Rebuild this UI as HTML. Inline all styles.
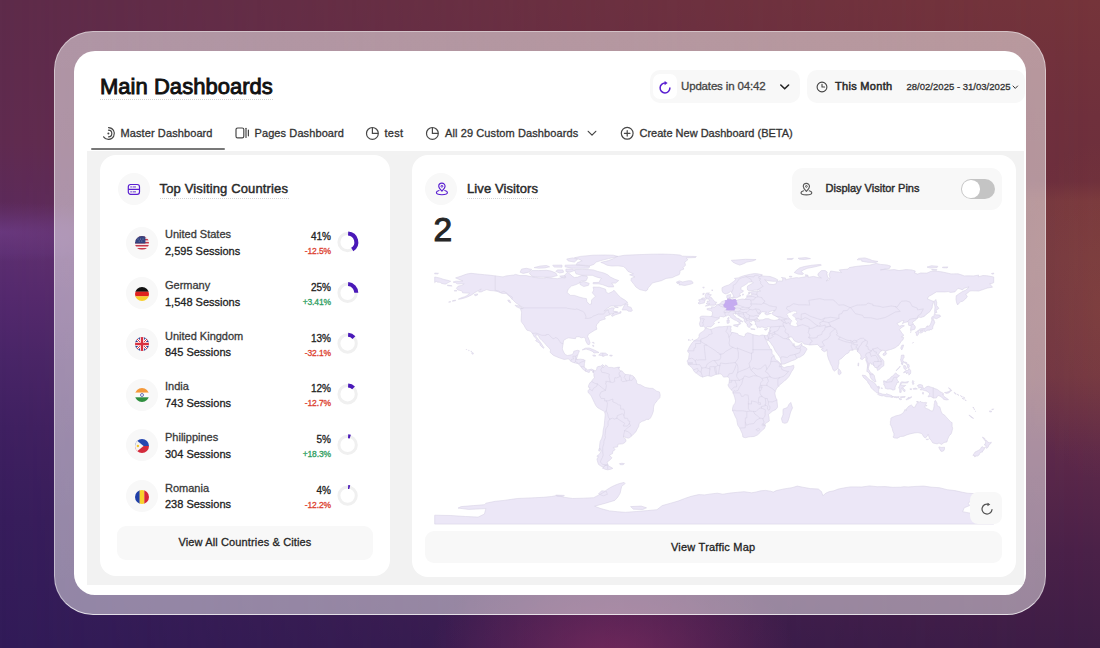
<!DOCTYPE html>
<html lang="en">
<head>
<meta charset="utf-8">
<title>Main Dashboards</title>
<style>
*{box-sizing:border-box;margin:0;padding:0}
html,body{width:1100px;height:648px;overflow:hidden}
body{font-family:"Liberation Sans",sans-serif;color:#222;position:relative;background:#4a2158;-webkit-font-smoothing:antialiased}
.bg{position:absolute;left:0;top:0;width:1100px;height:648px;
 background:linear-gradient(180deg,#5e2b4a 0%,#602b50 22%,#5c2a5c 33%,#5c2e70 39%,#54296e 46%,#492568 55%,#3f2061 66%,#371d5c 80%,#311b58 100%)}
.bg2{position:absolute;left:0;top:0;width:1100px;height:648px;
 background:linear-gradient(180deg,#75343a 0%,#6f303c 18%,#6d2f3c 28%,#78393e 31%,#763a40 40%,#713643 58%,#5e2949 70%,#4b2148 85%,#3e1d45 100%);
 -webkit-mask-image:linear-gradient(90deg,rgba(0,0,0,0) 0%,rgba(0,0,0,.55) 50%,rgba(0,0,0,1) 100%);mask-image:linear-gradient(90deg,rgba(0,0,0,0) 0%,rgba(0,0,0,.55) 50%,rgba(0,0,0,1) 100%)}
.bg3{position:absolute;left:0;top:0;width:1100px;height:648px;
 background:
  radial-gradient(ellipse 185px 125px at 612px 665px, rgba(150,48,100,.62), rgba(150,48,100,0) 100%),
  radial-gradient(ellipse 90px 170px at 1100px 310px, rgba(165,88,55,.2), rgba(165,88,55,0) 100%),
  radial-gradient(ellipse 170px 30px at 0px 232px, rgba(125,75,165,.38), rgba(125,75,165,0) 100%)}
.frame{position:absolute;left:54px;top:31px;width:992px;height:584px;border-radius:39px;
 background:linear-gradient(180deg, rgba(255,255,255,.50) 0%, rgba(255,255,255,.47) 100%);
 border:1px solid rgba(255,255,255,.45);border-bottom-color:rgba(255,255,255,.72)}
.app{position:absolute;left:74px;top:51px;width:952px;height:544px;border-radius:21px;background:#fff;overflow:hidden}
.pg{position:absolute;left:-74px;top:-51px;width:1100px;height:648px}
.abs{position:absolute}
.t{position:absolute;white-space:nowrap;line-height:1}
.med{-webkit-text-stroke:.3px currentColor}
.title{left:100px;top:76px;font-size:22px;font-weight:400;color:#111;letter-spacing:.03px;-webkit-text-stroke:.9px #111}
.dots{position:absolute;height:0;border-top:1px dotted #d4d4d4}
.pill{position:absolute;background:#f8f8f8;border-radius:10px}
.tab{font-size:11px;color:#333;top:128px;letter-spacing:.1px}
.gray{position:absolute;left:87px;top:151px;width:937px;height:434px;background:#f2f2f2}
.card{position:absolute;background:#fff;border-radius:16px}
.circ{position:absolute;width:32px;height:32px;border-radius:50%;background:#f8f8f8}
.h{font-size:13px;color:#2a2a2a;letter-spacing:.14px}
.cn{font-size:11px;color:#3a3a3a;left:165px}
.cs{font-size:11px;color:#222;left:165px}
.pc{font-size:10px;color:#222;text-align:right;width:60px;left:271px}
.ch{font-size:8.5px;text-align:right;width:60px;left:271px;letter-spacing:-.12px}
.red{color:#dc3f30}.grn{color:#2f9e5f}
.btn{position:absolute;background:#f8f8f8;border-radius:9px;font-size:11px;color:#222;text-align:center}
svg{position:absolute;overflow:visible}
</style>
</head>
<body>
<div class="bg"></div><div class="bg2"></div><div class="bg3"></div>
<div class="frame"></div>
<div class="app"><div class="pg">

<!-- header -->
<div class="t title">Main Dashboards</div>
<div class="dots" style="left:100px;top:99px;width:173px"></div>

<div class="pill" style="left:650px;top:70px;width:150px;height:33px"></div>
<div class="abs" style="left:653px;top:74px;width:24px;height:25px;background:#fff;border-radius:7px"></div>
<svg style="left:658.2px;top:80.5px" width="14" height="14" viewBox="0 0 14 14"><path d="M7.2 2.1 A4.9 4.9 0 1 0 11.9 7" fill="none" stroke="#5a1fd1" stroke-width="1.5" stroke-linecap="round"/><path d="M6.6 0.1 L9.6 2.1 L6.6 4.3 Z" fill="#5a1fd1"/></svg>
<div class="t med" style="left:681px;top:81px;font-size:11.5px;color:#444;letter-spacing:-.16px">Updates in 04:42</div>
<svg style="left:779px;top:83px" width="12" height="8" viewBox="0 0 12 8"><path d="M1.8 2 L5.7 5.8 L9.6 2" fill="none" stroke="#222" stroke-width="1.6" stroke-linecap="round" stroke-linejoin="round"/></svg>

<div class="pill" style="left:806.5px;top:70px;width:218px;height:33px"></div>
<svg style="left:816px;top:81px" width="12" height="12" viewBox="0 0 12 12"><circle cx="6" cy="6" r="4.9" fill="none" stroke="#444" stroke-width="1.1"/><path d="M6 3.2 V6 H8.6" fill="none" stroke="#444" stroke-width="1.1" stroke-linecap="round" stroke-linejoin="round"/></svg>
<div class="t" style="left:835px;top:81px;font-size:11px;font-weight:400;color:#2a2a2a;letter-spacing:.3px;-webkit-text-stroke:.5px #2a2a2a">This Month</div>
<div class="t med" style="left:906.5px;top:82px;font-size:9.5px;color:#333;letter-spacing:.02px">28/02/2025 - 31/03/2025</div>
<svg style="left:1011.5px;top:85px" width="7" height="5" viewBox="0 0 7 5"><path d="M1 1 L3.3 3.4 L5.6 1" fill="none" stroke="#333" stroke-width="1" stroke-linecap="round" stroke-linejoin="round"/></svg>

<!-- tabs -->
<svg style="left:101px;top:126px" width="15" height="15" viewBox="0 0 15 15"><path d="M7.5 1.6 A5.9 5.9 0 1 1 2.6 10.8" fill="none" stroke="#484848" stroke-width="1.2" stroke-linecap="round"/><path d="M7.5 4.2 A3.3 3.3 0 0 1 7.5 10.8" fill="none" stroke="#484848" stroke-width="1.2" stroke-linecap="round"/><circle cx="7.4" cy="7.5" r="1" fill="#444"/></svg>
<div class="t tab med" style="left:120.5px">Master Dashboard</div>
<div class="abs" style="left:90.5px;top:148px;width:134.5px;height:2px;background:#787878;border-radius:1px"></div>

<svg style="left:235px;top:127px" width="15" height="12" viewBox="0 0 15 12"><rect x="1" y="1" width="7.8" height="9.8" rx="1.6" fill="none" stroke="#484848" stroke-width="1.2"/><path d="M11 1.3 V10.5" stroke="#484848" stroke-width="1.2" stroke-linecap="round"/><path d="M13.4 3 V8.8" stroke="#484848" stroke-width="1.2" stroke-linecap="round"/></svg>
<div class="t tab med" style="left:254.5px">Pages Dashboard</div>

<svg style="left:365px;top:126px" width="15" height="15" viewBox="0 0 15 15"><circle cx="7.4" cy="7.4" r="5.9" fill="none" stroke="#484848" stroke-width="1.2"/><path d="M7.4 1.5 V7.4 H13.3" fill="none" stroke="#484848" stroke-width="1.2"/></svg>
<div class="t tab med" style="left:384.5px;letter-spacing:.3px">test</div>

<svg style="left:425px;top:126px" width="15" height="15" viewBox="0 0 15 15"><circle cx="7.4" cy="7.4" r="5.9" fill="none" stroke="#484848" stroke-width="1.2"/><path d="M7.4 1.5 V7.4 H13.3" fill="none" stroke="#484848" stroke-width="1.2"/></svg>
<div class="t tab med" style="left:445px">All 29 Custom Dashboards</div>
<svg style="left:587px;top:130px" width="10" height="7" viewBox="0 0 10 7"><path d="M1.2 1.3 L5 5.2 L8.8 1.3" fill="none" stroke="#444" stroke-width="1.2" stroke-linecap="round" stroke-linejoin="round"/></svg>

<svg style="left:620px;top:126px" width="15" height="15" viewBox="0 0 15 15"><circle cx="7.2" cy="7.3" r="5.9" fill="none" stroke="#484848" stroke-width="1.2"/><path d="M7.2 4.5 V10.1 M4.4 7.3 H10" fill="none" stroke="#484848" stroke-width="1.2" stroke-linecap="round"/></svg>
<div class="t tab med" style="left:639.5px;letter-spacing:0">Create New Dashboard (BETA)</div>

<!-- content -->
<div class="gray"></div>

<!-- countries card -->
<div class="card" style="left:99.7px;top:155.4px;width:290.5px;height:421px"></div>
<div class="circ" style="left:118px;top:173px"></div>
<svg style="left:127px;top:182px" width="14" height="14" viewBox="0 0 14 14"><rect x="1.3" y="2.5" width="11.2" height="9.8" rx="2.3" fill="none" stroke="#5a1fd1" stroke-width="1.2"/><path d="M1.3 7.4 H12.5" stroke="#5a1fd1" stroke-width="1.2"/><path d="M3.7 4.95 H4.5 M6 4.95 H8.6 M3.7 9.85 H4.5 M6 9.85 H8.6" stroke="#5a1fd1" stroke-width=".9" stroke-linecap="round"/></svg>
<div class="t h" style="left:159.5px;top:182.1px;-webkit-text-stroke:.45px #2a2a2a">Top Visiting Countries</div>
<div class="dots" style="left:160px;top:197.6px;width:129px"></div>

<div class="circ" style="left:126px;top:226.6px"></div>
<svg style="left:135px;top:236.0px" width="14" height="14" viewBox="0 0 14 14"><defs><clipPath id="c0"><circle cx="7" cy="7" r="7"/></clipPath></defs><g clip-path="url(#c0)"><rect width="14" height="14" fill="#f6f2f3"/><rect x="0" y="-0.20" width="14" height="1.55" fill="#c8384b"/><rect x="0" y="2.85" width="14" height="1.55" fill="#c8384b"/><rect x="0" y="5.90" width="14" height="1.55" fill="#c8384b"/><rect x="0" y="8.95" width="14" height="1.55" fill="#c8384b"/><rect x="0" y="12.00" width="14" height="1.55" fill="#c8384b"/><rect x="0" y="0" width="10.4" height="7.5" fill="#34437f"/><g fill="#8f9ac4"><circle cx="3" cy="3" r=".5"/><circle cx="5.5" cy="3" r=".5"/><circle cx="8" cy="3" r=".5"/><circle cx="4.2" cy="5" r=".5"/><circle cx="6.8" cy="5" r=".5"/></g></g></svg>
<div class="t cn med" style="top:229.3px">United States</div>
<div class="t cs med" style="top:245.9px">2,595 Sessions</div>
<div class="t pc med" style="top:232.1px">41%</div>
<div class="t ch red med" style="top:247.3px">-12.5%</div>
<svg style="left:0;top:0" width="1100" height="648"><circle cx="347.6" cy="242.1" r="8.7" fill="none" stroke="#f0f0f0" stroke-width="3"/><path d="M348.12 233.42 A8.7 8.7 0 0 1 352.26 249.45" fill="none" stroke="#4a19b8" stroke-width="4"/></svg>
<div class="circ" style="left:126px;top:277.3px"></div>
<svg style="left:135px;top:286.7px" width="14" height="14" viewBox="0 0 14 14"><defs><clipPath id="c1"><circle cx="7" cy="7" r="7"/></clipPath></defs><g clip-path="url(#c1)"><rect width="14" height="4.8" fill="#111"/><rect y="4.7" width="14" height="4.7" fill="#e0221f"/><rect y="9.3" width="14" height="4.8" fill="#f8cf2c"/></g></svg>
<div class="t cn med" style="top:280.0px">Germany</div>
<div class="t cs med" style="top:296.6px">1,548 Sessions</div>
<div class="t pc med" style="top:282.8px">25%</div>
<div class="t ch grn med" style="top:298.0px">+3.41%</div>
<svg style="left:0;top:0" width="1100" height="648"><circle cx="347.6" cy="292.8" r="8.7" fill="none" stroke="#f0f0f0" stroke-width="3"/><path d="M348.12 284.12 A8.7 8.7 0 0 1 356.30 292.80" fill="none" stroke="#4a19b8" stroke-width="4"/></svg>
<div class="circ" style="left:126px;top:328.0px"></div>
<svg style="left:135px;top:337.4px" width="14" height="14" viewBox="0 0 14 14"><defs><clipPath id="c2"><circle cx="7" cy="7" r="7"/></clipPath></defs><g clip-path="url(#c2)"><rect width="14" height="14" fill="#2c3f8f"/><path d="M0 0 L14 14 M14 0 L0 14" stroke="#fff" stroke-width="2.6"/><path d="M0 0 L14 14 M14 0 L0 14" stroke="#d8303f" stroke-width="1"/><path d="M7 0 V14 M0 7 H14" stroke="#fff" stroke-width="4.2"/><path d="M7 0 V14 M0 7 H14" stroke="#d8303f" stroke-width="2.4"/></g></svg>
<div class="t cn med" style="top:330.7px">United Kingdom</div>
<div class="t cs med" style="top:347.3px">845 Sessions</div>
<div class="t pc med" style="top:333.5px">13%</div>
<div class="t ch red med" style="top:348.7px">-32.1%</div>
<svg style="left:0;top:0" width="1100" height="648"><circle cx="347.6" cy="343.5" r="8.7" fill="none" stroke="#f0f0f0" stroke-width="3"/><path d="M348.12 334.82 A8.7 8.7 0 0 1 353.94 337.54" fill="none" stroke="#4a19b8" stroke-width="4"/></svg>
<div class="circ" style="left:126px;top:378.7px"></div>
<svg style="left:135px;top:388.1px" width="14" height="14" viewBox="0 0 14 14"><defs><clipPath id="c3"><circle cx="7" cy="7" r="7"/></clipPath></defs><g clip-path="url(#c3)"><rect width="14" height="4.8" fill="#f4993a"/><rect y="4.7" width="14" height="4.7" fill="#fafafa"/><rect y="9.3" width="14" height="4.8" fill="#2f8f3f"/><circle cx="7" cy="7" r="1.5" fill="none" stroke="#2b3f9f" stroke-width=".7"/></g></svg>
<div class="t cn med" style="top:381.4px">India</div>
<div class="t cs med" style="top:398.0px">743 Sessions</div>
<div class="t pc med" style="top:384.2px">12%</div>
<div class="t ch red med" style="top:399.4px">-12.7%</div>
<svg style="left:0;top:0" width="1100" height="648"><circle cx="347.6" cy="394.2" r="8.7" fill="none" stroke="#f0f0f0" stroke-width="3"/><path d="M348.12 385.52 A8.7 8.7 0 0 1 353.56 387.86" fill="none" stroke="#4a19b8" stroke-width="4"/></svg>
<div class="circ" style="left:126px;top:429.4px"></div>
<svg style="left:135px;top:438.8px" width="14" height="14" viewBox="0 0 14 14"><defs><clipPath id="c4"><circle cx="7" cy="7" r="7"/></clipPath></defs><g clip-path="url(#c4)"><rect width="14" height="7" fill="#2546b0"/><rect y="7" width="14" height="7" fill="#d32a3c"/><path d="M0 0 L8.6 7 L0 14 Z" fill="#f6f4f0"/><circle cx="2.9" cy="7" r="1.2" fill="#f3c52f"/></g></svg>
<div class="t cn med" style="top:432.1px">Philippines</div>
<div class="t cs med" style="top:448.7px">304 Sessions</div>
<div class="t pc med" style="top:434.9px">5%</div>
<div class="t ch grn med" style="top:450.1px">+18.3%</div>
<svg style="left:0;top:0" width="1100" height="648"><circle cx="347.6" cy="444.9" r="8.7" fill="none" stroke="#f0f0f0" stroke-width="3"/><path d="M348.12 436.22 A8.7 8.7 0 0 1 350.29 436.63" fill="none" stroke="#4a19b8" stroke-width="4"/></svg>
<div class="circ" style="left:126px;top:480.1px"></div>
<svg style="left:135px;top:489.5px" width="14" height="14" viewBox="0 0 14 14"><defs><clipPath id="c5"><circle cx="7" cy="7" r="7"/></clipPath></defs><g clip-path="url(#c5)"><rect width="4.8" height="14" fill="#1f3fa8"/><rect x="4.7" width="4.7" height="14" fill="#f7d12c"/><rect x="9.3" width="4.8" height="14" fill="#d6263a"/></g></svg>
<div class="t cn med" style="top:482.8px">Romania</div>
<div class="t cs med" style="top:499.4px">238 Sessions</div>
<div class="t pc med" style="top:485.6px">4%</div>
<div class="t ch red med" style="top:500.8px">-12.2%</div>
<svg style="left:0;top:0" width="1100" height="648"><circle cx="347.6" cy="495.6" r="8.7" fill="none" stroke="#f0f0f0" stroke-width="3"/><path d="M348.12 486.92 A8.7 8.7 0 0 1 349.76 487.17" fill="none" stroke="#4a19b8" stroke-width="4"/></svg>

<div class="btn" style="left:117px;top:526px;width:256px;height:34px"></div>
<div class="t med" style="left:178.5px;top:536.9px;font-size:11px;color:#262626;letter-spacing:.13px">View All Countries &amp; Cities</div>

<!-- live visitors card -->
<div class="card" style="left:412px;top:155.2px;width:604px;height:421.5px"></div>
<div class="circ" style="left:425px;top:173px"></div>
<svg style="left:434.5px;top:181.8px" width="14" height="14" viewBox="0 0 15 15"><path d="M7.4 1.2 C5.3 1.2 4 2.8 4 4.5 C4 6.4 5.8 8.2 7.4 9.9 C9 8.2 10.8 6.4 10.8 4.5 C10.8 2.8 9.5 1.2 7.4 1.2 Z" fill="none" stroke="#5a1fd1" stroke-width="1.2" stroke-linejoin="round"/><circle cx="7.4" cy="4.6" r="1" fill="none" stroke="#5a1fd1" stroke-width="1"/><path d="M4.3 9.1 C2.6 9.6 1.5 10.4 1.5 11.3 C1.5 12.7 4.1 13.6 7.4 13.6 C10.7 13.6 13.3 12.7 13.3 11.3 C13.3 10.4 12.2 9.6 10.5 9.1" fill="none" stroke="#5a1fd1" stroke-width="1.2" stroke-linecap="round"/></svg>
<div class="t h" style="left:467px;top:181.8px;letter-spacing:.09px;-webkit-text-stroke:.45px #2a2a2a">Live Visitors</div>
<div class="dots" style="left:467px;top:197.6px;width:71px"></div>
<div class="t" style="left:433.6px;top:212.7px;font-size:33.5px;font-weight:400;color:#262626;-webkit-text-stroke:1.1px #262626">2</div>

<div class="pill" style="left:792px;top:168px;width:210px;height:42px;border-radius:11px"></div>
<svg style="left:799px;top:181.9px" width="15" height="15" viewBox="0 0 15 15"><path d="M7.4 1.4 C5.5 1.4 4.3 2.8 4.3 4.4 C4.3 6.1 5.9 7.7 7.4 9.3 C8.9 7.7 10.5 6.1 10.5 4.4 C10.5 2.8 9.3 1.4 7.4 1.4 Z" fill="none" stroke="#5a5a5a" stroke-width="1.15" stroke-linejoin="round"/><circle cx="7.4" cy="4.4" r="0.9" fill="none" stroke="#5a5a5a" stroke-width="1"/><path d="M4.6 8.8 C3 9.2 2 9.9 2 10.8 C2 12.1 4.4 12.9 7.4 12.9 C10.4 12.9 12.8 12.1 12.8 10.8 C12.8 9.9 11.8 9.2 10.2 8.8" fill="none" stroke="#5a5a5a" stroke-width="1.15" stroke-linecap="round"/></svg>
<div class="t" style="left:825.5px;top:183px;font-size:11px;color:#2a2a2a;-webkit-text-stroke:.4px #2a2a2a">Display Visitor Pins</div>
<div class="abs" style="left:960.5px;top:178.5px;width:34px;height:20.5px;border-radius:11px;background:#c4c4c4"></div>
<div class="abs" style="left:962px;top:180px;width:17.5px;height:17.5px;border-radius:50%;background:#fff"></div>

<svg style="left:0;top:0" width="1100" height="648" viewBox="0 0 1100 648">
<defs><clipPath id="mapclip"><rect x="433.0" y="252.5" width="562.5" height="272.5"/></clipPath></defs>
<g clip-path="url(#mapclip)">
<path d="M453.1 282.1L455.9 281.2L459.8 281.3L462.9 280.9L460.0 279.8L455.6 277.9L461.1 276.1L466.5 274.1L471.0 273.3L478.1 274.1L484.4 274.7L489.0 275.1L495.2 275.9L503.0 276.9L506.1 275.9L513.9 275.0L515.4 274.4L520.1 275.6L526.3 275.6L535.6 277.6L543.4 278.4L546.5 277.5L551.1 278.1L557.3 278.7L562.0 277.6L565.1 278.1L564.6 275.3L567.4 272.2L570.5 274.5L572.1 276.1L574.4 277.6L577.5 277.2L581.4 275.6L586.9 276.1L587.6 277.6L586.1 280.7L580.6 281.0L579.1 283.1L576.0 284.6L571.3 286.1L568.2 289.2L567.0 292.4L570.5 295.4L574.4 295.4L579.1 297.0L583.7 298.2L586.4 298.6L586.9 301.6L589.2 304.3L591.5 304.0L591.5 300.1L595.4 296.2L592.3 292.8L593.8 290.0L593.1 287.1L599.3 287.2L605.5 289.2L606.3 292.4L608.6 293.4L612.5 291.6L614.0 290.2L617.9 294.7L621.0 297.8L624.9 300.1L627.7 302.4L624.1 304.3L621.0 306.0L610.9 306.0L607.8 307.9L603.9 311.1L606.3 309.9L611.7 307.7L614.3 308.0L613.3 310.2L614.0 312.2L618.7 312.8L621.0 311.3L621.0 313.0L615.6 314.7L612.0 316.4L611.4 315.1L614.0 313.3L610.1 314.1L610.1 314.7L605.5 316.1L604.4 317.9L605.5 319.0L603.2 319.6L599.3 320.9L598.8 322.6L596.9 324.1L596.2 326.4L596.9 329.2L594.6 330.3L591.5 332.2L588.4 334.2L587.6 336.5L589.2 340.1L590.0 342.7L589.2 344.7L587.6 344.3L585.6 340.7L585.6 338.5L583.7 337.3L581.4 337.8L579.1 336.7L576.0 336.8L575.5 338.7L572.9 338.4L568.5 337.8L566.7 338.5L563.6 340.4L563.1 343.5L562.3 348.9L563.6 352.0L565.1 354.4L567.4 355.6L571.3 354.8L573.3 353.6L573.8 351.2L577.5 350.3L579.4 350.8L578.3 353.6L577.2 356.7L576.3 359.0L577.5 359.3L580.6 359.2L583.7 359.6L585.0 360.6L584.4 363.7L584.2 366.8L585.3 368.3L587.6 369.9L590.0 369.5L591.5 369.1L594.0 370.3L593.2 372.6L592.3 370.9L590.4 370.0L589.2 372.5L587.3 371.9L585.3 370.9L584.2 370.2L582.2 368.6L581.0 366.8L578.3 363.7L575.2 363.0L572.1 362.1L568.2 358.8L564.3 359.5L559.2 357.8L553.5 355.4L550.0 352.2L550.7 350.0L548.8 347.7L545.7 344.6L544.1 342.4L542.0 340.6L539.5 338.1L538.4 335.4L535.9 334.5L536.1 336.5L539.0 340.4L541.0 343.0L542.9 346.1L544.1 347.8L543.4 348.3L540.3 345.4L539.8 343.2L536.8 341.5L535.6 340.7L536.8 339.3L534.4 337.0L532.5 333.4L530.3 331.1L526.9 330.2L524.9 327.1L524.0 325.2L521.9 322.6L521.2 321.2L521.3 317.1L521.6 312.2L520.5 308.8L523.5 307.9L520.1 305.8L515.7 302.7L513.9 300.9L512.0 299.0L509.2 296.2L506.1 293.4L502.2 293.4L497.2 291.4L493.7 290.8L489.8 290.5L486.7 289.6L483.6 290.8L481.3 291.9L478.5 292.0L481.3 288.9L476.6 291.6L474.6 292.7L471.9 294.7L468.0 296.7L464.2 298.1L461.1 298.9L458.3 299.2L461.8 297.6L464.9 296.7L468.0 295.0L469.6 293.0L467.6 293.1L462.6 292.8L461.8 290.8L458.0 290.0L456.4 288.2L458.3 286.1L461.8 285.4L464.2 283.8L461.1 283.8L457.2 283.8L455.6 282.7ZM645.9 291.0L639.7 289.6L635.8 286.9L634.2 284.6L631.1 280.7L631.1 278.4L635.0 276.9L629.6 274.8L633.4 273.8L628.0 271.4L625.7 268.3L623.3 266.5L617.9 265.8L611.7 266.0L607.0 265.2L603.2 263.2L600.8 262.4L608.6 260.6L613.3 258.7L616.4 256.7L624.1 255.3L636.6 254.7L652.1 254.2L663.0 254.1L672.3 254.4L680.0 255.0L682.4 256.2L696.3 256.5L695.6 257.5L686.2 257.9L687.8 259.8L684.7 262.1L685.5 265.2L683.1 267.6L683.9 269.1L680.0 270.6L680.0 272.2L679.3 274.5L675.4 276.1L672.3 277.6L666.1 278.4L661.4 280.7L656.0 282.0L652.1 283.1L650.5 285.4L648.2 287.7L647.4 290.0ZM613.7 286.9L608.6 286.9L602.4 284.6L598.5 283.8L593.1 283.8L593.1 282.6L599.3 282.3L600.1 279.9L601.6 278.4L596.2 276.9L592.3 275.3L586.9 275.3L582.2 275.3L576.0 273.8L574.4 269.6L582.2 269.4L588.4 269.6L593.1 269.9L597.7 271.4L603.9 273.0L607.8 274.8L610.1 276.9L614.8 279.2L618.7 280.6L615.6 283.1L611.7 283.1L613.3 285.4ZM529.4 273.0L531.7 270.6L538.7 270.6L546.5 270.3L551.1 271.1L555.8 273.0L557.3 275.6L551.1 277.2L543.4 277.2L537.2 277.0L532.5 276.4L530.2 274.5ZM520.1 272.2L521.6 269.1L526.3 268.3L531.7 269.4L528.6 272.2L523.2 273.4ZM534.1 267.6L540.3 266.0L546.5 265.5L549.6 266.8L544.9 267.9L538.7 268.2ZM557.3 269.9L562.8 269.9L563.6 272.2L559.7 273.0L555.8 271.4ZM565.9 269.1L572.9 269.1L574.4 270.6L569.8 272.2L565.9 271.4ZM565.1 265.2L574.4 264.9L582.2 265.5L590.0 266.6L588.4 268.2L579.1 268.3L571.3 268.2L565.1 266.8ZM590.0 265.7L593.8 264.4L596.2 262.1L600.8 260.6L608.6 258.6L617.9 256.4L613.3 255.2L605.5 255.0L593.1 255.2L580.6 256.4L574.4 257.8L579.1 259.3L582.2 260.9L577.5 262.6L576.0 264.8L585.3 265.4ZM566.7 259.0L572.9 257.9L577.5 259.3L574.4 262.1L568.2 260.9ZM552.7 265.2L562.0 265.1L562.0 267.2L554.2 267.1ZM559.7 276.1L565.1 275.6L565.9 277.2L561.2 277.3ZM579.9 284.3L583.7 286.5L588.4 285.4L589.2 283.4L583.7 281.5L579.9 282.3ZM515.0 305.2L519.6 306.0L522.7 308.6L520.4 308.5L516.2 306.6ZM507.7 300.1L509.5 300.1L510.8 302.9L508.9 302.0ZM474.3 294.5L477.7 293.9L477.4 295.1L475.0 295.8ZM622.1 309.9L624.9 304.1L628.0 303.8L627.5 306.3L631.1 307.4L631.9 309.4L632.4 310.5L631.1 311.4L628.0 311.1L627.2 310.0ZM614.2 306.6L617.9 307.1L618.2 307.7L614.8 307.2ZM614.3 311.3L617.6 311.7L617.1 312.5L614.8 312.0ZM582.2 349.9L585.3 348.2L589.2 348.0L594.6 350.2L599.0 352.5L593.8 353.0L593.1 351.7L589.2 350.0L586.1 349.1ZM598.7 355.1L600.8 353.0L605.5 353.1L608.0 355.0L605.5 355.4L603.2 356.4L601.6 355.6ZM592.6 355.3L594.6 355.1L595.9 355.9L593.8 356.2ZM609.8 355.1L612.3 355.3L612.0 356.1L609.8 355.9ZM592.3 342.4L593.8 342.4L594.3 343.3L592.8 342.9ZM592.8 345.1L593.7 345.4L593.7 346.6L592.6 346.1ZM618.2 367.2L619.6 367.1L619.5 368.1L618.2 368.1ZM452.5 300.7L455.6 300.1L455.6 300.7L452.5 301.3ZM448.6 302.1L450.5 301.6L450.5 302.1ZM447.4 285.1L451.7 285.7L452.1 286.1L447.5 285.7ZM454.4 290.5L456.7 290.3L456.7 291.1L454.4 291.1ZM471.9 352.5L473.5 353.1L472.7 354.4L471.9 353.6ZM470.8 351.2L471.9 351.4L471.3 351.9ZM468.5 350.3L469.3 350.5L468.8 350.8ZM466.2 349.4L466.8 349.5L466.5 349.9ZM594.0 370.3L594.9 371.4L596.8 369.1L596.9 367.4L598.0 366.6L600.8 366.1L602.8 364.6L603.5 365.8L602.7 366.9L603.3 368.0L603.9 366.9L605.2 365.8L605.5 364.9L607.8 366.4L608.6 367.4L611.7 367.4L614.0 368.0L617.9 367.2L618.7 368.6L619.8 370.5L622.6 371.4L623.8 373.3L625.7 374.5L628.8 374.7L632.7 375.7L634.2 377.1L636.6 381.0L636.6 383.3L638.9 384.6L640.4 384.7L645.1 387.4L649.8 388.3L652.9 388.4L654.4 389.5L656.7 391.2L659.4 391.9L660.2 395.0L659.8 397.8L657.5 400.1L656.0 402.4L654.4 403.9L653.6 407.1L653.3 411.4L652.1 414.8L650.5 417.9L649.0 419.4L646.6 419.4L644.3 420.7L642.0 421.3L639.2 423.3L638.7 426.4L637.3 428.8L635.8 431.9L633.4 434.2L631.1 436.5L628.9 438.1L626.9 437.9L623.5 436.5L623.5 437.4L625.4 438.8L626.1 441.0L624.7 442.7L622.6 443.8L617.9 444.2L617.6 446.9L613.3 447.4L615.1 449.7L612.8 451.2L612.5 453.6L609.4 455.1L611.9 457.9L609.4 460.5L607.0 462.1L608.0 464.9L606.3 465.2L604.1 465.8L603.5 467.3L600.8 466.0L598.5 464.4L597.7 462.1L596.9 459.0L598.5 456.7L596.8 456.2L599.3 454.3L600.8 452.0L601.1 449.7L599.6 448.6L599.6 445.8L600.1 441.5L601.6 438.8L602.8 434.9L603.2 430.3L604.2 425.7L604.7 420.2L605.2 415.1L604.9 412.3L603.3 410.8L600.1 409.1L597.4 407.5L595.7 405.3L594.3 402.4L592.8 399.3L591.5 396.5L590.1 394.3L588.3 392.8L587.9 390.8L589.5 389.1L590.0 387.7L588.4 387.2L588.6 385.4L590.0 382.6L591.7 381.6L592.3 379.9L594.5 377.8L593.8 375.3L594.0 373.4L593.2 372.6ZM607.7 465.3L612.9 468.4L610.9 469.2L607.8 469.8L605.5 469.4L602.4 468.1L603.9 467.3L605.0 465.6ZM599.0 448.6L600.2 448.7L599.9 451.1L598.7 450.9ZM619.5 463.6L621.8 463.3L624.4 463.6L623.3 464.7L620.2 464.7ZM705.0 328.3L706.0 328.2L709.5 329.1L711.1 329.4L713.3 328.5L715.8 327.4L718.9 326.8L722.0 326.8L725.8 326.4L729.4 326.0L731.3 326.4L730.7 328.3L731.3 330.3L729.9 331.1L731.6 332.3L734.7 332.8L737.8 333.7L738.7 335.3L741.4 335.9L743.7 336.8L745.3 335.8L745.3 334.0L747.6 332.8L749.9 333.3L753.0 334.7L756.1 335.3L759.2 335.9L760.8 335.3L762.3 335.0L764.4 335.4L764.7 337.3L765.0 338.1L766.4 340.7L767.8 344.3L769.3 346.6L769.6 348.2L771.5 349.7L772.0 351.2L772.1 353.4L774.0 355.9L775.5 359.6L777.9 361.0L780.2 363.3L781.4 364.4L781.3 365.8L784.1 367.7L787.2 366.6L790.3 366.3L793.7 365.2L793.9 367.5L793.1 369.4L791.5 371.7L790.1 374.5L788.7 376.8L785.9 379.9L784.6 380.7L781.8 383.3L780.2 384.4L777.9 386.9L776.6 388.4L775.5 390.8L774.8 393.1L775.5 397.0L776.9 400.1L777.3 403.9L777.6 407.1L776.0 409.4L772.4 411.2L770.1 413.1L768.4 414.5L769.0 417.1L769.3 421.0L766.2 423.0L765.0 424.1L765.3 426.4L764.2 428.8L762.3 430.1L760.0 432.6L757.7 434.8L754.1 436.5L750.7 436.7L748.4 437.0L745.3 437.7L742.9 437.0L742.6 434.9L742.2 433.4L741.1 431.1L739.8 428.1L737.8 425.3L737.2 422.6L736.7 419.3L735.2 416.4L733.6 412.5L732.5 410.5L732.5 408.6L733.3 405.5L735.0 403.2L735.6 400.9L734.7 397.4L733.6 393.9L733.1 393.1L732.8 391.6L731.4 390.0L729.3 387.7L727.9 384.9L729.0 383.3L729.1 382.2L729.4 379.9L729.3 378.2L728.0 376.8L727.1 376.8L725.1 377.0L723.5 377.1L722.3 375.1L721.0 374.0L719.5 373.9L716.1 374.3L713.9 375.3L711.1 376.4L709.2 375.9L708.0 375.6L704.9 376.4L702.6 377.0L700.2 376.1L697.4 374.0L696.3 373.1L694.8 372.2L693.7 370.6L692.9 369.1L691.7 367.5L690.9 366.8L689.4 365.5L688.1 364.4L688.1 363.0L687.0 361.0L688.6 359.0L688.9 355.9L689.4 353.7L688.6 352.8L687.8 351.6L687.8 350.5L689.4 347.1L691.7 343.3L693.4 341.6L694.2 340.6L697.0 339.2L698.5 338.1L699.1 336.5L699.0 335.0L699.9 333.4L702.4 331.7L703.6 331.1L704.9 329.2ZM790.8 402.4L792.2 407.1L792.6 407.8L791.1 410.9L790.3 413.2L789.5 416.4L788.0 421.0L787.2 422.6L784.9 423.3L782.5 422.6L781.4 418.7L782.1 417.1L783.0 414.8L783.0 410.2L783.3 408.9L786.1 408.1L788.0 406.7L788.7 404.7L790.0 403.2ZM688.0 339.8L689.2 339.5L688.7 340.4ZM689.7 340.2L690.3 340.2L690.1 340.7ZM692.0 339.5L692.8 339.3L692.1 340.2ZM700.2 326.4L699.4 323.8L700.5 320.2L699.9 317.1L701.8 316.1L705.7 316.2L708.8 316.4L711.4 316.5L712.3 314.8L712.5 312.2L710.8 310.6L707.2 309.7L706.9 308.8L709.5 308.2L711.9 308.5L711.4 306.8L714.4 307.1L716.5 306.0L716.8 304.9L719.6 304.1L720.9 302.9L721.7 301.6L723.5 301.0L725.1 300.6L727.4 300.4L727.7 298.9L726.8 297.6L726.9 295.4L729.4 294.7L730.7 294.4L730.5 296.2L729.7 297.8L729.4 298.6L729.7 299.3L731.3 299.5L731.3 300.1L733.0 299.8L735.2 299.3L736.4 300.3L739.0 299.6L742.9 299.0L744.9 299.5L745.3 298.7L747.0 297.5L746.8 295.8L747.9 294.5L749.9 295.4L751.5 295.4L751.9 294.2L750.7 293.1L750.7 292.0L753.0 291.6L757.7 291.6L760.8 291.0L758.5 290.0L754.6 290.2L749.9 291.0L747.6 290.0L747.3 287.7L747.6 286.1L751.5 283.8L753.5 282.7L751.8 281.8L748.4 282.3L746.8 283.8L743.7 285.8L741.1 287.1L740.9 289.7L743.4 290.8L742.9 291.9L740.1 293.1L739.8 294.7L739.0 296.7L736.4 297.8L734.4 297.9L733.9 296.7L732.8 294.4L731.6 292.4L730.8 291.0L729.0 292.7L726.6 293.7L725.1 293.9L722.7 292.4L722.0 290.2L722.0 287.7L725.1 286.1L729.0 284.9L731.3 283.2L733.6 281.5L735.9 279.5L734.4 278.4L738.3 277.9L741.4 276.5L743.7 275.8L746.8 275.0L750.7 274.2L754.3 273.6L757.7 273.8L762.3 274.8L760.8 275.8L765.4 276.2L770.1 276.5L774.8 278.2L777.9 279.9L777.1 281.2L773.2 281.3L767.8 280.7L764.7 279.8L768.2 283.1L768.4 284.0L773.2 284.6L776.3 283.7L776.3 282.1L779.4 280.9L782.5 281.2L782.8 278.4L781.4 277.5L785.6 278.1L785.6 279.9L788.7 278.9L796.5 277.6L798.8 277.9L804.3 277.0L808.2 275.8L808.2 277.3L813.6 276.4L818.3 277.6L821.4 277.9L818.3 276.1L817.9 273.8L821.4 270.6L825.2 270.6L827.3 272.2L826.8 273.8L827.6 276.9L828.8 278.4L826.0 281.0L829.1 279.9L829.9 277.6L829.1 274.5L830.7 271.0L835.3 271.7L839.2 272.2L841.5 272.5L839.2 269.9L847.8 269.1L849.3 267.6L855.5 266.5L861.7 265.8L869.5 265.2L876.2 263.4L880.4 264.4L886.6 264.9L890.5 266.0L889.7 268.3L880.4 269.9L885.0 269.4L889.7 269.9L894.3 269.6L899.0 270.6L906.0 269.6L911.4 269.9L915.3 271.0L914.5 273.0L917.6 274.1L920.7 273.0L927.0 273.1L930.8 271.4L933.2 271.0L940.9 271.7L947.2 273.0L951.0 273.9L958.0 273.8L962.7 275.3L964.2 275.9L967.3 275.8L973.6 275.9L978.7 275.1L978.2 276.9L982.9 275.5L987.5 275.8L993.7 277.0L993.7 282.6L991.4 283.7L989.9 283.5L989.9 284.1L992.5 287.2L987.5 288.0L982.9 289.6L978.7 291.0L972.0 290.8L969.7 291.0L967.6 293.1L965.8 294.2L967.3 296.7L965.5 298.9L962.7 301.3L960.7 301.6L957.6 304.9L956.5 302.4L956.0 299.3L956.2 295.8L958.8 293.9L962.4 291.6L965.6 290.2L968.1 288.2L968.9 286.9L963.5 288.5L962.7 289.9L958.0 288.2L954.9 291.9L950.3 292.4L948.4 291.6L944.8 291.9L940.2 291.9L936.3 291.9L932.4 294.4L928.5 296.5L927.4 299.0L929.6 299.8L932.1 300.9L933.8 301.3L933.2 302.9L932.4 305.5L932.1 307.9L929.8 311.7L926.2 314.4L924.3 316.4L920.7 317.6L919.0 317.0L917.2 318.2L915.6 320.2L913.0 321.8L912.2 323.0L914.1 324.9L915.2 326.4L915.3 328.0L914.5 329.4L912.5 329.9L910.5 330.5L910.7 328.3L911.0 326.4L910.7 325.5L908.8 325.4L908.3 324.1L908.8 322.6L907.4 321.8L904.4 322.6L902.4 323.7L903.4 321.8L904.0 320.7L902.1 320.6L899.8 322.1L897.5 323.0L897.0 323.7L898.7 325.2L899.8 326.3L901.8 325.2L904.4 325.8L902.1 327.2L901.0 328.0L899.5 329.6L900.6 331.1L901.8 333.0L903.4 334.7L903.4 335.9L901.3 336.8L903.7 337.6L902.9 339.9L901.6 340.7L899.9 343.5L898.5 345.5L897.5 346.0L895.4 347.7L891.7 349.2L890.5 349.5L888.1 350.2L885.8 350.9L885.5 352.3L884.6 350.5L882.4 350.3L880.1 351.7L878.5 354.4L879.6 356.2L881.1 358.2L882.4 359.0L883.8 361.3L883.9 364.1L883.8 365.7L881.9 367.1L880.7 367.8L879.9 369.1L877.6 370.5L877.0 368.6L876.5 367.7L874.9 367.4L874.0 365.7L872.6 364.4L871.1 364.1L870.9 363.0L870.3 362.9L869.5 363.3L869.3 365.2L868.7 366.8L868.3 369.1L869.5 370.6L870.3 372.6L871.8 373.3L873.1 374.2L874.3 375.6L874.9 378.4L875.4 379.9L876.0 381.6L874.9 381.8L872.9 380.4L871.5 379.2L870.4 377.3L870.0 375.3L869.7 373.7L869.0 373.3L867.9 371.7L866.9 371.6L866.9 369.9L867.3 368.3L867.5 365.2L866.7 362.1L865.9 360.6L865.8 358.2L864.8 357.1L863.6 358.4L862.4 359.5L860.5 359.0L861.0 356.7L860.6 354.7L859.4 353.1L858.5 352.6L857.5 351.6L856.8 349.2L854.7 349.2L853.2 350.0L851.2 350.2L849.3 350.5L849.3 351.7L848.4 353.0L846.2 353.9L844.7 355.4L843.6 356.4L842.0 358.1L840.3 359.2L838.8 360.2L838.9 363.5L838.3 365.5L838.1 367.8L836.9 369.4L835.6 370.0L834.6 371.2L833.2 370.0L832.5 368.3L831.9 366.4L830.4 363.8L829.6 361.3L828.8 359.8L828.0 357.4L827.3 354.4L827.3 352.0L826.9 350.9L826.8 349.4L826.2 350.8L824.5 351.7L822.9 350.9L821.2 349.4L823.2 348.3L821.0 347.7L820.1 347.1L818.9 345.8L818.1 345.2L817.5 344.4L814.4 344.7L811.0 344.9L809.7 344.9L806.6 344.4L804.0 344.0L802.7 342.3L801.6 341.8L798.8 342.6L796.5 341.9L794.2 340.6L793.2 339.0L792.2 337.3L790.3 336.7L788.7 337.5L788.6 338.2L789.5 339.6L791.4 341.9L792.2 342.9L792.6 344.3L793.1 345.4L793.4 345.1L793.9 343.3L794.3 344.7L794.3 346.1L796.5 346.3L798.7 345.8L800.1 344.6L801.8 343.0L801.8 345.1L802.4 346.1L805.1 347.2L807.1 348.9L805.4 352.0L804.0 354.4L801.6 356.1L799.6 357.3L798.2 357.4L795.3 359.6L791.9 360.7L790.5 361.3L788.0 362.4L784.1 364.0L781.8 364.1L781.3 363.2L780.8 360.9L780.5 358.4L779.4 356.5L777.9 354.4L776.3 352.3L775.1 350.5L774.0 348.2L773.2 346.4L772.0 345.1L770.9 343.2L769.3 341.2L767.9 340.2L768.6 338.1L767.8 340.1L767.5 340.7L766.2 339.6L765.0 337.6L764.7 337.3L764.4 335.4L766.7 335.6L767.8 335.0L768.2 334.0L768.6 333.0L769.3 331.3L769.8 328.8L770.3 326.8L767.9 326.8L766.5 327.7L764.7 327.8L761.9 326.8L760.0 327.5L758.0 326.8L756.6 326.4L756.0 324.3L755.0 324.4L755.8 322.9L754.7 321.8L756.9 321.2L759.2 321.2L760.0 320.6L759.2 320.2L759.5 319.9L763.0 319.8L765.4 318.7L768.7 318.7L770.9 319.8L774.0 320.4L775.9 320.2L778.6 319.5L779.0 318.5L777.9 317.1L775.9 316.2L773.5 315.0L771.7 313.6L772.4 312.5L773.5 311.9L775.2 310.6L772.4 310.8L769.0 311.7L768.6 312.2L769.3 313.4L770.9 313.4L769.2 314.1L767.3 314.8L766.2 314.7L764.7 313.6L766.5 312.2L763.9 311.9L761.9 311.7L760.3 313.7L758.8 315.3L758.6 316.5L757.5 316.8L756.9 317.9L757.8 319.2L759.1 320.1L756.9 320.2L755.7 321.0L754.9 321.6L754.6 320.7L753.0 320.4L752.1 320.4L751.5 321.8L750.7 321.5L749.8 321.0L749.3 321.8L749.9 322.9L750.2 323.7L751.5 324.6L751.6 325.4L750.2 325.1L750.1 325.8L750.2 327.2L749.1 327.4L747.9 326.8L747.0 325.2L747.9 324.4L746.8 324.3L746.3 323.4L745.3 322.3L744.2 321.0L744.3 319.8L744.0 318.7L742.9 317.9L741.4 317.1L739.8 316.4L737.8 315.3L736.6 313.6L735.8 314.4L735.3 313.3L733.3 313.4L733.3 315.0L735.2 316.2L736.3 317.9L739.4 318.9L739.0 319.6L740.4 320.1L742.9 321.6L742.6 322.1L740.9 321.0L740.0 322.3L740.9 323.4L739.8 324.3L739.0 325.1L738.6 324.9L739.0 323.8L739.2 322.9L738.6 321.8L738.0 321.8L736.4 320.6L733.8 319.6L733.1 319.0L731.3 318.1L730.5 317.3L730.2 316.4L730.0 315.8L728.0 315.0L726.6 315.8L725.7 316.1L723.4 317.0L722.6 316.7L720.4 316.4L719.0 317.0L719.3 318.2L717.6 319.6L716.1 320.1L714.5 321.8L713.7 322.6L714.5 323.7L713.4 324.4L712.6 325.5L710.8 326.9L707.4 326.9L705.8 327.8L704.4 327.2L703.5 326.1L701.9 326.4ZM434.7 277.0L439.3 277.9L444.0 279.5L447.9 280.3L450.7 281.3L447.1 283.1L446.3 284.0L444.8 284.1L441.6 283.4L440.1 282.3L437.0 282.1L436.2 281.2L434.7 282.6ZM705.3 306.1L707.7 305.8L709.5 305.2L712.0 305.2L714.5 305.2L716.4 304.4L715.3 304.0L716.8 302.3L714.7 301.8L714.0 300.6L712.5 299.2L711.7 297.8L711.1 297.3L709.2 297.0L709.9 296.4L710.9 295.3L711.4 294.7L708.8 294.4L707.7 294.7L709.5 293.0L706.4 293.0L705.2 294.7L705.3 296.2L705.2 298.1L706.7 297.6L706.3 299.0L708.9 298.7L708.9 299.6L709.5 300.4L709.5 301.0L707.1 301.2L707.4 302.0L707.8 302.4L706.9 303.2L706.0 303.4L707.7 303.8L709.2 304.0L710.0 303.8L708.8 304.4L707.2 304.8ZM699.0 304.0L701.3 303.5L704.3 302.9L704.7 301.2L705.7 299.3L704.7 298.2L702.9 297.9L701.0 298.9L701.3 299.3L698.7 299.8L699.0 301.0L700.2 301.3L699.4 302.0L698.0 303.0ZM676.2 282.3L679.3 280.9L682.7 282.0L686.2 281.2L688.6 280.7L691.7 280.9L693.2 283.1L690.9 284.1L684.7 285.5L681.6 284.9L678.9 284.9L680.0 284.1L676.9 283.2L679.7 282.4ZM702.7 287.2L704.3 287.2L703.6 288.3ZM711.7 289.9L712.8 289.9L712.2 291.0ZM702.9 293.4L704.4 293.3L703.0 295.1ZM731.3 260.3L739.0 259.8L745.3 259.3L756.1 259.5L753.0 260.9L746.8 262.1L743.7 263.7L739.8 265.1L735.9 263.7L732.8 262.1ZM787.2 258.7L793.4 258.4L791.9 259.5L787.2 259.3ZM798.1 258.2L805.8 257.6L810.5 258.6L804.3 259.5L799.6 259.2ZM794.2 272.5L796.5 270.3L799.6 267.9L804.3 266.5L812.0 265.2L820.6 264.4L821.4 265.2L815.1 266.8L807.4 268.3L803.5 269.9L801.2 271.4L803.5 273.8L802.7 274.4L798.1 274.1ZM789.5 276.2L791.9 276.4L791.5 277.2L789.5 277.0ZM805.1 274.8L807.8 275.1L807.4 275.8L805.5 275.6ZM861.7 261.2L867.9 262.3L875.7 262.4L878.0 261.5L872.6 260.6L869.5 259.3L864.8 257.9L858.6 258.4L857.1 259.8L861.7 259.8ZM927.0 267.1L931.6 265.7L937.8 266.3L937.1 267.6L930.1 268.0ZM942.5 267.1L947.9 266.9L947.2 267.9L942.5 267.7ZM931.6 269.4L937.1 269.7L936.3 270.3L932.1 270.0ZM991.4 273.6L993.7 273.0L993.7 273.9L992.2 274.1ZM434.7 273.0L438.5 273.3L437.8 273.9L434.7 273.9ZM935.8 299.5L936.7 302.4L936.6 305.5L938.9 308.3L936.0 310.5L936.9 312.5L934.7 312.7L934.7 310.2L935.0 307.1L934.3 303.2L934.4 301.2ZM931.6 319.5L931.6 317.9L932.1 316.7L933.6 316.7L934.6 313.3L936.3 314.8L939.9 315.1L940.6 316.5L936.6 318.7L933.9 317.9L932.7 319.0ZM933.8 319.6L934.7 322.6L933.9 324.4L933.2 325.7L932.7 327.2L932.9 328.5L931.3 329.7L930.1 329.4L929.8 330.2L928.8 330.2L927.0 330.2L926.7 330.6L925.1 332.0L924.0 330.6L924.5 330.2L922.3 330.2L920.0 330.6L917.5 331.1L918.3 330.3L920.0 328.9L922.6 328.6L925.3 328.5L926.5 326.8L927.4 325.7L927.3 326.8L929.3 325.8L930.1 325.1L931.3 322.0L931.6 320.7L932.1 319.9ZM920.0 331.7L922.3 330.5L923.4 331.4L922.6 332.3L920.7 333.1L919.7 332.2ZM917.5 331.3L918.7 331.7L919.2 332.7L918.3 334.4L917.2 335.8L916.4 335.3L916.4 333.7L915.8 333.1L915.6 332.0L916.7 331.7ZM912.5 343.2L913.4 342.3L913.0 343.0ZM910.2 332.0L911.3 331.9L910.8 332.3ZM902.1 345.1L903.7 345.1L902.9 347.4L901.8 349.9L900.7 348.2L901.6 345.8ZM883.0 354.0L884.3 352.8L886.1 352.6L886.6 353.4L885.8 354.7L884.3 355.6L883.0 355.1ZM838.6 368.6L840.3 370.5L841.2 372.9L840.5 374.0L839.4 374.7L838.4 374.2L838.1 372.9L838.1 371.1L838.3 369.9ZM858.2 362.9L858.8 363.2L858.5 366.0L857.9 365.8ZM901.5 355.1L904.0 355.1L904.1 357.4L903.0 359.0L902.9 360.6L903.7 361.9L905.2 362.1L906.8 362.6L906.9 364.3L905.7 363.5L904.4 362.6L903.2 362.3L901.5 362.4L900.9 360.9L900.6 359.0L901.0 358.8L901.2 356.7ZM901.2 363.0L902.9 363.0L902.7 364.7L902.1 364.9ZM896.2 370.8L899.5 367.7L900.1 366.1L899.5 366.9L896.5 370.0ZM903.7 365.5L905.4 365.8L906.0 367.5L906.9 368.3L905.8 369.5L904.4 369.1L903.7 367.5ZM907.2 364.4L908.8 364.4L909.4 366.4L908.6 368.0L908.0 368.3L907.5 367.1L907.4 366.0ZM903.7 373.1L905.7 370.5L907.7 370.6L909.1 368.6L910.7 370.6L910.7 372.9L910.2 374.0L908.8 375.1L908.8 373.3L907.1 372.6L906.8 374.0L906.0 372.2L904.0 371.9ZM883.9 383.8L883.5 380.9L885.0 381.2L886.6 381.5L887.4 379.9L889.7 378.8L891.2 376.8L892.8 376.1L894.3 374.3L895.6 372.9L897.0 374.0L897.5 374.8L899.5 375.6L898.2 377.0L897.3 377.3L896.8 378.7L897.5 380.4L899.0 382.2L897.1 382.6L896.4 384.7L895.6 385.8L895.0 387.7L895.1 389.2L894.3 390.0L892.2 390.0L892.0 389.2L889.7 388.9L887.8 389.1L885.3 388.3L885.0 386.1L883.8 385.0ZM862.2 375.1L865.6 375.7L867.5 377.9L870.3 380.4L871.8 381.2L874.2 382.7L875.4 383.8L876.3 385.4L878.8 388.9L878.5 392.9L876.6 392.8L875.4 391.6L873.1 389.8L871.1 387.7L870.1 385.4L867.9 382.6L867.6 381.2L865.6 379.5L863.4 377.4ZM877.6 394.3L878.8 392.9L880.1 393.3L882.9 394.2L885.7 394.5L886.4 393.7L889.2 394.7L892.0 395.7L892.2 397.4L889.2 396.8L886.6 396.7L883.5 395.7L881.9 395.9L879.6 395.3ZM892.0 396.5L893.9 396.5L893.1 397.4ZM894.3 396.7L895.4 396.7L895.1 397.6L894.3 397.4ZM895.6 396.8L899.2 396.7L899.0 397.4L895.9 397.8ZM900.4 396.8L905.2 396.5L904.9 397.3L900.6 397.6ZM899.0 398.5L901.8 399.1L900.9 399.8L899.0 399.0ZM906.0 399.8L907.5 398.1L911.9 396.8L910.7 397.9L907.5 399.6ZM877.6 386.4L879.1 386.3L879.9 388.4L878.5 388.0ZM881.3 387.8L882.4 388.0L881.9 388.8ZM900.6 382.6L901.8 381.8L905.2 382.2L908.0 381.5L908.6 381.5L907.5 383.0L905.2 383.0L902.1 383.0L900.9 383.8L900.9 385.2L902.9 385.2L905.8 385.4L904.9 386.3L903.2 386.7L902.9 388.0L904.1 388.9L905.2 390.0L904.9 391.6L903.7 391.2L902.9 390.0L902.1 388.4L902.0 388.0L901.2 388.4L901.2 392.3L899.8 392.5L899.6 391.7L899.8 389.2L898.7 388.1L899.5 386.1L900.2 384.1ZM912.2 382.2L912.8 380.4L913.9 381.5L913.3 382.6L914.1 383.3L913.0 384.7L912.5 383.3ZM913.0 388.8L915.3 388.1L917.3 388.9L915.8 389.2L913.3 389.2ZM909.9 388.8L911.6 388.8L911.4 389.7L910.2 389.5ZM918.0 385.0L920.0 384.4L922.5 385.2L922.8 386.9L923.9 388.9L925.4 387.4L927.0 386.6L928.5 386.3L930.1 386.9L932.7 387.7L935.5 388.8L937.2 389.4L940.6 391.9L942.5 392.9L943.9 394.2L942.5 394.3L944.0 396.4L946.1 397.9L948.5 399.6L946.8 399.9L944.0 399.5L942.8 398.5L940.9 396.5L938.6 395.6L936.7 396.7L936.6 397.8L934.7 398.1L933.2 397.9L930.8 396.5L928.0 396.8L929.3 394.7L929.8 393.9L928.5 392.3L926.2 390.9L924.6 390.6L922.3 389.8L920.4 390.0L920.4 389.1L921.8 388.8L921.8 387.7L919.7 387.4L919.0 388.3L918.0 386.1L917.5 386.0ZM922.6 392.3L923.5 392.6L923.2 394.3L922.6 393.9ZM944.5 392.5L946.4 392.3L948.7 391.6L950.7 390.3L950.6 391.4L948.7 392.9L946.4 393.4ZM948.4 387.8L950.3 388.8L951.8 390.8L951.2 390.5L949.5 388.8ZM954.4 392.3L956.3 394.0L955.7 394.3L954.3 392.9ZM957.2 394.2L958.8 395.1L958.3 395.4ZM960.4 395.6L962.4 396.8L961.9 397.0ZM962.1 398.2L963.9 399.0L963.1 399.1ZM963.6 396.8L964.7 398.2L964.2 398.4ZM964.7 399.8L966.3 400.5L965.5 400.4ZM972.9 407.1L973.9 407.8L973.2 408.1ZM973.9 408.6L974.8 409.4L974.2 409.5ZM975.4 411.1L976.0 411.4L975.6 411.5ZM968.9 415.0L971.2 416.4L973.6 418.4L972.0 417.9L969.4 415.7ZM989.5 410.9L991.6 411.1L991.4 412.0L989.7 411.9ZM991.7 409.4L993.7 408.9L993.0 409.8ZM935.5 400.4L937.1 403.2L937.1 405.5L939.9 407.1L940.9 410.9L942.2 413.7L944.8 415.3L945.9 416.7L948.4 419.4L951.0 422.2L952.1 422.6L952.1 426.4L952.7 428.3L951.8 431.9L951.0 434.2L949.9 434.8L949.0 436.3L947.5 439.6L947.0 441.9L944.0 442.5L941.6 444.4L939.4 443.3L938.8 443.2L937.1 443.9L933.9 443.2L932.6 442.7L931.2 440.4L930.1 439.0L929.3 438.5L929.3 437.9L928.5 435.3L928.2 434.3L927.0 436.5L925.3 437.9L924.2 437.3L922.6 434.9L921.8 433.6L918.0 432.6L914.5 432.9L909.9 433.9L906.8 434.9L903.5 436.3L900.6 436.5L897.3 438.2L894.3 437.9L893.0 437.1L893.9 435.4L893.9 433.4L892.8 431.1L892.2 428.4L890.8 425.0L890.0 424.4L890.5 423.3L890.3 421.8L890.8 420.2L890.9 418.4L891.6 417.6L893.6 416.8L895.6 415.9L898.4 415.3L900.6 414.6L902.9 413.2L904.0 411.5L905.1 409.4L906.2 410.8L906.2 408.9L907.5 407.8L908.3 406.6L910.2 405.5L911.3 405.0L913.0 406.7L913.1 407.5L915.3 406.9L915.6 405.8L916.4 403.9L917.3 403.0L919.2 402.4L920.1 401.3L921.5 402.2L923.9 402.7L925.4 402.4L926.8 402.7L925.4 404.7L925.3 406.3L924.6 407.1L926.2 408.4L927.7 408.9L930.1 410.2L930.8 410.9L932.9 410.9L933.6 408.6L934.1 406.3L934.1 403.9L934.6 403.3L934.7 400.9ZM938.9 446.9L941.7 447.5L944.5 447.2L944.5 448.9L944.0 450.5L942.2 451.4L940.9 451.2L939.7 449.2L938.9 447.7ZM926.3 439.1L928.5 439.3L927.7 439.6L926.3 439.6ZM916.6 401.5L918.4 401.5L917.6 402.2L916.7 402.1ZM926.0 405.2L926.8 405.2L926.7 406.0L926.0 405.8ZM982.4 437.1L984.9 438.5L985.2 439.6L985.7 441.0L986.6 440.4L987.8 442.2L989.4 442.7L991.4 442.2L990.6 443.8L988.9 445.0L988.0 447.4L986.4 448.3L985.7 447.8L986.0 445.6L984.1 444.7L985.4 443.9L985.5 442.7L985.7 441.5L984.7 440.2L983.0 438.1ZM982.4 446.6L983.2 447.8L984.7 447.4L984.4 448.9L984.0 449.5L982.6 451.4L983.0 451.7L980.2 452.6L979.1 454.9L977.4 456.0L975.6 456.0L972.9 455.4L974.3 453.2L975.1 452.0L978.2 450.5L980.1 449.5L980.7 448.4L981.5 447.2ZM974.5 456.3L975.4 456.5L974.8 457.1ZM733.6 324.9L738.4 324.4L737.7 326.9L733.6 325.5ZM726.9 320.2L729.3 320.1L729.1 323.0L727.2 323.4ZM727.6 318.1L728.8 317.1L729.0 319.2L727.9 319.5ZM750.7 328.6L755.0 329.1L754.9 329.6L750.9 329.2ZM764.4 329.4L767.9 328.5L767.0 329.6L765.0 330.2ZM717.9 322.4L719.5 322.1L719.0 322.9ZM757.4 327.4L758.0 327.5L757.4 328.2ZM750.2 323.4L752.4 324.7L751.6 324.6ZM731.3 297.5L733.8 296.8L733.5 298.2L731.6 298.2ZM729.4 297.8L731.0 297.8L730.7 298.6L729.7 298.4ZM742.5 294.1L743.7 294.2L742.8 295.4ZM739.7 296.7L740.8 295.0L740.0 296.4ZM748.2 293.1L750.2 293.0L749.1 293.9ZM748.5 292.4L749.9 292.4L749.3 292.8ZM434.7 515.2L450.2 515.5L465.7 516.5L478.1 517.1L484.4 514.0L485.9 508.6L468.8 509.4L458.0 508.1L461.1 506.6L473.5 505.6L484.4 504.7L485.9 503.2L495.2 501.3L504.1 500.4L517.3 498.5L530.9 497.9L543.4 497.3L551.6 496.5L555.8 495.7L560.5 496.3L565.1 497.4L572.6 498.5L583.7 498.2L593.7 497.7L599.0 494.9L603.9 492.3L606.9 489.7L610.9 487.2L614.8 485.3L619.5 483.5L624.1 482.4L625.2 483.5L621.8 486.1L621.0 489.2L620.2 493.1L617.9 497.0L614.8 500.4L605.5 503.2L594.6 506.2L600.8 508.6L609.5 510.9L617.9 511.8L625.4 512.3L636.6 511.5L647.4 510.6L657.0 509.7L662.2 505.6L670.7 503.2L678.0 501.1L684.7 498.5L691.2 496.3L698.7 494.6L704.4 494.9L711.1 493.9L717.3 493.2L722.9 494.2L729.7 493.1L737.5 492.3L744.2 491.7L751.5 492.8L756.1 492.0L760.8 490.8L765.4 490.4L770.7 491.2L773.2 492.1L776.3 490.6L784.1 488.9L791.9 487.7L797.3 486.1L802.7 487.2L810.5 488.6L818.3 489.0L821.4 491.5L822.9 495.7L826.0 493.1L829.1 491.7L833.8 490.8L838.4 489.0L846.2 487.5L850.6 486.9L857.1 486.9L861.7 487.0L869.5 485.9L877.3 486.7L885.0 486.6L892.8 487.3L900.6 487.2L903.7 486.7L908.3 486.9L916.1 486.4L923.9 486.1L931.6 487.2L939.4 487.7L947.2 489.7L954.9 490.6L962.7 492.3L967.3 493.2L972.0 493.5L978.5 494.3L979.8 496.2L976.7 497.7L972.0 500.1L968.1 503.2L969.7 505.5L964.2 507.8L962.7 511.7L970.4 513.2L981.3 514.5L993.7 515.2L993.7 524.1L434.7 524.1ZM630.6 506.6L641.2 506.1L646.5 507.8L642.8 509.5L633.4 509.2ZM601.6 490.8L606.3 491.2L607.4 494.3L603.2 495.9L598.5 493.9ZM555.8 495.1L564.3 495.4L563.6 496.2L556.6 496.0Z" fill="#ece7f7" stroke="#d9d3e6" stroke-width=".6" stroke-linejoin="round"/>
<path d="M790.6 312.0L793.4 311.1L796.5 311.3L796.8 313.6L793.9 313.7L793.4 314.8L792.3 315.1L794.2 316.8L796.0 317.8L795.7 319.2L796.5 320.6L797.8 321.8L796.5 322.9L797.9 326.0L795.0 326.8L792.3 325.8L790.3 325.5L790.1 324.3L790.8 322.9L791.1 321.0L792.2 321.2L790.6 319.5L789.2 318.2L788.0 317.1L787.7 315.3L786.7 314.5L788.0 313.1L789.5 312.5Z" fill="#fff" stroke="#d9d3e6" stroke-width=".5" stroke-linejoin="round"/>
<path d="M725.1 300.6L727.4 300.3L727.6 298.7L729.6 298.9L729.7 299.5L731.3 299.5L731.3 300.1L733.0 299.8L735.2 299.3L736.3 300.3L736.4 301.8L737.0 302.7L737.2 304.8L736.4 304.9L733.3 306.0L733.6 306.6L735.6 308.2L734.4 308.9L734.4 310.2L730.5 310.3L729.1 310.2L726.0 310.0L726.9 307.9L724.1 307.1L723.7 306.1L723.5 304.8L724.8 303.4L725.1 302.7L725.4 301.3Z" fill="#c5abf0" stroke="#bda3e6" stroke-width=".5" stroke-linejoin="round"/>
<path d="M495.2 275.9L495.2 290.3L498.3 290.8L500.7 292.5L503.8 291.3L506.9 293.1L509.2 295.4L512.3 297.0L512.0 299.0M523.5 307.9L566.4 307.9L567.1 308.2L571.3 308.9L575.2 309.4L576.8 308.9L582.5 311.3L583.1 311.7L584.5 312.8L586.2 317.1L585.1 318.4L588.4 318.4L591.5 317.5L593.1 316.2L595.7 315.3L598.2 314.1L603.2 314.1L605.0 312.7L606.7 310.3L608.6 310.5L608.9 313.0L610.1 314.1M532.3 333.4L536.1 333.1L541.8 335.3L546.2 335.3L546.2 334.5L548.8 334.5L551.9 337.9L553.9 338.9L555.0 337.6L557.3 338.1L559.7 341.2L560.5 342.9L563.2 343.7M571.0 361.3L571.0 360.1L572.1 359.0L573.7 359.0L572.9 357.1L572.9 356.2L575.7 356.2L575.7 359.2L577.2 359.5M575.7 356.2L577.1 355.1M575.7 359.2L575.5 361.5L574.3 362.6M575.5 361.5L577.8 363.0M578.6 363.7L581.4 362.1L585.0 360.6M581.1 366.6L584.2 366.9M585.5 371.2L585.9 368.9M594.0 370.3L593.2 372.6M602.8 353.3L602.8 355.9M603.5 365.5L600.8 369.5L601.8 372.3L605.5 372.9L609.4 374.2L608.9 376.8L609.7 379.5L610.1 381.9M610.1 381.9L605.8 381.2L606.3 382.9L605.5 383.0L606.4 385.7L605.5 390.3M605.5 390.3L601.6 387.5L599.3 385.4L597.3 384.0M597.3 384.0L594.6 383.2L591.8 381.6M597.3 384.0L596.9 386.1L593.4 388.4L592.3 390.8L589.5 389.1M605.5 390.3L601.0 392.0L599.6 395.1L601.0 398.4L604.7 398.5L604.6 400.9L606.3 400.9M606.3 400.9L607.5 403.2L607.0 407.1L606.3 410.9L604.9 412.3M606.3 400.9L608.1 400.9L612.8 399.0L612.8 401.9L616.4 403.3L618.2 404.7L620.6 405.2L620.7 409.1L623.7 409.1L624.6 411.7L624.1 414.5L623.8 415.1M606.3 410.9L607.8 414.0L608.3 417.1L609.8 419.1M609.8 419.1L612.5 418.1L614.3 419.1L616.8 418.2M616.8 418.2L617.4 415.6L622.4 413.7L623.8 415.1M623.8 415.1L624.4 418.1L627.7 418.4L628.2 421.0L629.9 421.2L629.4 423.5M616.8 418.2L621.0 421.0L624.7 423.3L623.2 426.0L627.2 426.1L629.4 423.5M629.4 423.5L630.6 425.8L627.5 427.8L624.7 430.6M624.7 430.6L628.0 431.7L631.1 434.2L631.3 436.0M624.7 430.6L623.8 434.2L623.5 436.5M609.8 419.1L608.0 421.8L608.1 425.7L605.8 428.8L605.5 431.9L605.0 435.7L605.5 437.3L603.9 441.2L603.8 443.8L602.7 447.4L602.7 452.0L603.2 455.1L602.4 457.4L600.8 460.5L600.4 462.1L601.9 463.6L602.5 464.4L608.0 464.9M607.7 465.3L607.7 468.9M610.1 381.9L612.5 382.6L614.8 381.5L614.5 379.9L614.8 377.6L616.7 377.9L619.5 376.8L619.9 375.7M619.9 375.7L619.2 374.7L619.0 372.9L621.0 370.9M619.9 375.7L621.0 376.8L621.3 378.4L621.2 380.2L622.6 381.8L626.5 380.9M625.4 374.7L624.1 377.6L625.2 378.7L626.5 380.9M630.3 375.0L629.6 377.6L629.4 380.2M626.5 380.9L629.4 380.2L632.0 380.4L633.9 377.6M710.8 329.4L711.6 331.6L712.3 333.7L708.6 334.8L708.3 335.9L705.7 337.5L700.7 339.3L700.7 340.9M700.7 340.9L693.7 340.9M700.7 340.9L700.7 343.5L695.6 343.5L695.6 347.5L694.0 348.2L693.9 350.8L687.8 350.8M700.7 341.5L706.7 345.1M706.7 345.1L704.1 345.2L705.5 358.2L705.8 359.8L699.6 359.8L697.4 360.2L696.3 359.6L695.3 360.9M688.6 359.0L691.7 358.1L693.5 359.0L695.3 360.9M695.3 360.9L696.5 364.6M688.3 364.6L692.9 364.3L696.5 364.6M688.1 362.7L692.5 362.7L692.5 363.3L688.1 363.5M696.5 364.6L699.8 364.7L701.8 368.0M693.5 369.9L697.6 368.3L698.2 370.6L696.3 373.1M698.2 370.6L701.0 372.0L702.6 377.0M701.8 368.0L701.0 372.0M701.8 368.0L705.7 367.7L709.9 368.9M709.9 368.9L709.2 375.9M709.9 368.9L709.7 366.8L714.2 366.6M714.2 366.6L715.1 371.4L716.1 374.3M715.6 366.8L716.7 374.2M719.8 365.7L718.4 373.9M705.7 367.7L707.2 364.1L709.5 362.6L712.6 360.6L714.5 360.6M714.5 360.6L717.6 364.6L717.9 365.4M715.6 366.8L717.9 365.4L719.8 365.7M706.7 345.1L716.1 351.1L717.0 352.3L719.2 353.1L719.3 354.4L720.7 354.2M720.7 354.2L720.7 357.6L719.6 359.9L714.5 360.6M720.7 354.2L723.2 353.7L725.8 351.4L732.8 347.4M732.8 347.4L736.3 348.8L737.5 348.2M737.5 348.2L738.4 352.8L738.3 358.2L735.3 362.6M719.8 365.7L720.6 362.9L725.1 363.7L729.7 363.2L735.3 362.6M735.3 362.6L736.3 364.4L734.7 369.1L732.5 373.3L729.0 373.9L727.6 376.7M737.5 348.2L751.5 353.6M732.8 347.4L729.7 345.7L729.0 343.0L729.6 339.9L729.0 337.0M729.0 337.0L730.0 335.9L732.1 332.5M729.0 337.0L728.2 334.0L725.8 331.3L727.1 329.2L727.6 326.6M753.0 334.8L753.0 349.7M753.0 349.7L771.5 349.7M753.0 349.7L753.0 352.8L751.5 352.8L751.5 353.6M751.5 353.6L751.5 359.5L749.0 363.7L749.8 366.9M749.8 366.9L746.8 368.8L743.7 369.9L737.8 372.3M737.8 372.3L738.0 368.3L737.7 366.0L736.7 363.8M737.8 372.3L736.7 374.7L736.7 376.8L739.4 380.4M739.4 380.4L734.9 380.4L731.7 380.4L729.4 380.2M731.7 380.4L731.7 382.2L729.4 382.2M734.9 380.4L736.7 384.7L736.6 386.9L734.1 387.2L732.4 388.8L731.4 389.8M743.1 378.4L741.8 383.8L739.4 387.2L738.0 390.5L735.6 391.2L734.1 390.6L733.1 392.8M739.4 380.4L743.1 378.4M743.1 378.4L744.5 375.9L749.0 377.4L753.5 375.7L756.8 375.9M749.8 366.9L750.9 370.2L753.3 372.2L756.8 375.9M751.5 370.3L753.0 367.8L757.7 369.2L760.8 368.5L764.5 365.2L765.8 364.9L766.8 369.1M766.8 369.1L765.4 371.6L768.1 373.4L770.0 376.7M770.0 376.7L767.0 377.3L762.0 378.4L760.0 377.0L756.8 375.9M766.8 369.1L768.6 366.8L770.4 364.1L770.9 361.6L771.7 357.4L774.1 355.9M770.9 361.6L774.0 361.3L777.6 361.9L780.0 364.4M781.1 364.1L780.0 364.4L779.1 366.8L781.0 366.6L781.4 366.0M781.0 366.6L781.8 369.1L782.5 369.9L787.2 371.4L788.7 371.4L784.1 376.1L779.3 377.8M779.3 377.8L775.5 378.4L773.4 378.2L770.1 377.0L770.0 376.7M779.3 377.8L777.9 379.5L777.9 385.2L778.8 386.4M767.0 377.3L768.6 381.2L767.0 383.3L766.8 385.4M766.8 385.4L772.7 388.9L775.1 391.1M762.0 378.4L762.8 380.4L760.6 382.9L760.2 386.0M760.2 386.0L761.6 385.4L766.8 385.4M760.2 386.0L759.2 388.0L759.7 390.6M761.6 385.4L762.0 387.5L760.8 390.5L759.9 390.6M759.2 388.0L762.0 387.5M759.7 390.6L760.2 393.9L761.9 396.5M761.9 396.5L765.3 398.4L767.0 398.5M768.4 401.8L772.4 401.9L776.9 400.1M765.3 398.4L765.8 403.2L765.1 405.0L767.6 406.1L767.5 409.1L769.0 410.3L769.8 408.6L770.0 406.9L768.4 404.7L768.4 401.8L767.0 398.5M761.9 396.5L759.1 397.0L758.5 400.1L758.3 402.9L760.5 402.7L760.5 404.6L758.9 404.3L756.4 402.1L753.5 401.3L751.5 400.9L751.5 403.9L748.4 403.9M748.4 403.9L748.4 400.9L748.8 400.5L748.1 395.1L744.5 394.7L743.7 396.2L741.5 396.4L740.0 392.9L734.4 392.9L733.1 393.1M748.4 403.9L748.4 408.9L750.5 411.1M732.5 410.5L735.2 410.2L735.9 410.8L742.8 410.8L746.8 411.5L750.5 411.1L753.5 411.4M746.8 412.2L746.8 417.9L745.3 417.9L745.3 422.2L745.3 427.8L739.8 428.1M745.3 422.2L746.5 425.3L749.3 424.1L753.8 423.6L756.1 420.4L759.9 418.2M759.9 418.2L757.2 415.6L754.9 414.2L753.5 411.4M753.5 411.4L756.1 411.5L759.1 408.4L761.4 408.0M761.4 408.0L765.3 409.7L765.4 410.6L765.0 413.1L765.3 414.0L764.7 416.8L762.8 418.5M759.9 418.2L762.8 418.5M762.8 418.5L763.9 421.8L763.7 423.9L764.1 425.3L765.3 425.5M761.4 408.0L761.1 406.7L765.8 405.5L765.1 405.0M756.1 429.7L758.6 428.1L759.9 429.7L758.0 431.2L756.1 429.7M762.3 424.1L763.9 424.1L764.1 425.3L762.8 426.1L762.0 425.2L762.3 424.1M700.4 318.9L701.5 318.7L704.1 318.9L704.6 319.3L703.5 320.2L703.3 322.3L702.6 322.4L703.3 324.6L702.7 326.1M711.4 316.5L715.3 317.5L719.2 318.1M725.8 315.9L725.1 314.5L724.8 313.9L725.1 312.7M725.1 312.7L723.7 312.2L725.1 310.2L726.0 310.0M718.1 304.6L718.9 305.1L720.7 306.3L723.2 307.1L724.1 307.1M719.5 304.1L722.0 304.1L723.4 305.1L723.5 305.1M725.1 312.7L727.2 311.9L728.2 312.8L730.4 311.6L730.4 311.1M729.1 310.8L730.4 311.1L733.1 310.9L735.5 311.7L739.0 311.4L739.2 311.1L740.8 309.4L740.4 308.5L737.5 307.9L735.6 308.2M735.5 311.7L735.3 313.1M737.2 304.8L740.4 305.7L743.4 307.1L740.6 308.2L740.4 308.5M743.4 307.1L745.3 307.4L749.1 307.7M740.8 309.4L743.4 309.7L745.3 309.1L748.7 308.8L749.1 307.7M748.7 308.8L749.8 309.4L747.1 312.3L745.7 312.3L743.4 312.7L739.8 311.7L739.2 311.1M735.3 313.3L738.0 313.3L739.8 311.7M738.7 313.7L740.6 313.7L743.7 314.2L744.3 316.8L742.9 317.9M738.7 313.7L739.4 315.3L741.4 317.1M743.4 312.7L743.7 314.2M744.3 316.8L745.7 317.5L746.2 318.9L746.8 320.4L745.3 322.3M744.3 318.9L746.2 318.9M746.8 320.4L749.8 319.8L752.2 319.5L754.7 319.6L755.0 319.2L757.7 318.7M755.0 319.2L754.6 320.6M749.5 315.3L749.0 318.2L749.8 319.8M746.2 318.9L749.0 318.2M745.7 312.3L747.6 314.4L749.1 314.8L749.5 315.3L749.8 315.9L753.8 316.2L756.1 315.4L758.6 316.1M749.8 309.4L752.9 309.9L755.5 308.9L758.0 313.3L760.3 313.7M755.5 308.9L759.4 309.4L760.9 311.9L758.0 313.3M749.1 307.7L751.5 305.5L750.9 304.0L751.3 302.1L750.7 300.1L749.6 299.5L744.9 299.5M750.7 300.1L754.0 299.8L755.5 297.5L752.9 296.4L747.0 296.8M755.5 297.5L758.0 296.8L757.2 294.8L756.8 294.5L753.0 293.9L751.9 294.1M756.8 294.5L756.9 292.7L757.7 291.6M750.9 304.0L756.1 304.0L761.6 304.3L763.6 303.0M763.6 303.0L765.0 301.0L762.3 299.0L762.0 297.6L758.0 296.8M763.6 303.0L767.0 304.4L769.3 305.7L773.2 306.5L776.5 306.9L775.9 309.7L773.5 310.8M727.6 298.7L729.6 298.9M731.6 292.4L733.3 288.5L733.1 285.4L735.9 283.8L737.5 281.2L739.8 278.4L742.5 277.6L746.0 276.7M751.8 281.8L751.0 279.2L746.0 276.7M746.0 276.7L747.6 276.4L754.1 276.9L754.6 275.5L757.7 275.1L759.1 276.7L762.0 275.6M759.1 276.7L758.5 278.1L760.8 278.9L759.2 280.1L760.9 282.0L760.5 283.4L761.6 284.6L763.1 286.3L757.4 290.0M702.9 298.4L701.6 299.3L703.0 299.8L704.4 299.9M790.6 312.0L786.4 308.8L787.2 306.6L789.5 306.3L793.4 303.7L798.8 304.8L805.1 304.8L809.7 305.1L808.9 300.3L810.5 300.1L819.8 298.6L824.5 299.8L833.0 299.8L835.0 301.2L838.6 305.1L843.7 304.8L849.8 307.5M849.8 307.5L847.3 310.5L843.1 310.8L842.0 313.4L838.9 314.4L838.8 318.4M838.8 318.4L830.7 317.3L824.5 318.2L821.4 319.8L817.5 318.7L810.5 316.4L805.1 313.3L801.2 314.1L801.2 319.8L798.1 318.2L795.6 319.0M801.2 319.8L805.1 317.6L807.4 318.4L810.3 320.1L814.4 323.5L817.5 325.8M797.9 326.0L802.7 324.6L807.4 326.4L809.2 327.1L809.2 328.6M809.2 328.6L812.0 328.3L814.4 327.4L817.5 325.8M817.5 325.8L819.8 326.4L822.9 325.7L825.2 325.1L825.4 326.9L830.5 326.1M838.8 318.4L833.0 321.0L828.7 322.6L830.5 326.1M824.5 318.2L822.9 321.3L819.5 322.9L820.4 324.6L819.5 326.1M822.9 321.3L828.7 322.6M789.7 337.3L788.3 335.8L788.4 334.2L785.6 332.7L784.9 331.1L785.9 329.2L784.7 328.0L783.8 326.1M783.8 326.1L782.8 324.1L783.8 322.3M783.8 322.3L786.4 323.5L788.7 322.6L790.1 324.3M778.6 319.5L781.8 320.1L781.9 321.3L783.8 322.3M776.3 316.5L780.2 316.8L782.5 317.8L786.4 318.9L789.7 319.0M781.8 320.1L784.1 319.8L786.4 318.9M784.1 319.8L786.4 323.5M770.3 328.0L771.2 326.8L773.2 326.8L780.0 326.3L783.8 326.1M780.0 326.3L778.2 329.9L777.9 330.5L774.5 332.0M774.5 332.0L775.1 333.9L771.7 335.0L773.2 336.5L772.4 337.3L770.1 338.5L768.6 338.2M774.5 332.0L771.4 333.7L769.6 333.1M769.6 333.1L769.3 335.0L768.6 338.1M768.7 332.5L770.0 332.0L771.0 330.8L770.1 330.2M767.3 335.3L768.4 338.1M775.1 333.9L776.9 334.4L783.6 338.5L786.4 338.7L788.0 337.3L788.7 337.3M786.4 338.7L788.0 339.5L789.4 339.6M780.7 358.4L781.3 356.8L783.3 356.8L787.2 357.6L789.5 355.6L795.0 354.4L799.6 352.8L800.7 349.7L799.9 348.6L795.9 348.3L794.3 346.3M799.9 348.6L800.9 346.3L801.8 345.2M795.0 354.4L796.7 358.1M793.1 345.4L794.3 346.1M809.9 344.7L810.2 342.7L812.3 341.6L811.7 340.1L808.8 337.6M808.8 337.6L810.0 335.1L808.3 332.7L809.2 328.6M808.8 337.6L813.6 338.2L817.2 337.5L817.5 335.8L821.8 334.4L822.1 332.7L822.9 331.1L824.8 329.9L824.8 327.8L830.5 326.1M820.1 347.1L824.5 345.8L823.4 344.0L822.1 341.9L824.0 340.4L827.4 338.9L829.0 337.0L830.1 335.6L830.1 333.0L835.0 328.8M830.5 326.1L835.0 328.8L836.9 330.6L836.7 332.7L837.7 333.3L836.4 335.0L840.0 337.0M838.6 339.2L840.0 337.0L844.7 339.2L847.8 340.4L851.0 340.6L851.0 342.9L844.7 341.5L838.6 339.2M852.3 341.5L854.0 340.2L856.5 340.7L857.1 342.1L853.7 342.4L852.3 341.5M851.0 340.6L852.3 341.5M856.5 340.7L860.2 338.5L863.3 338.2L865.3 340.1M852.3 350.2L852.4 349.4L851.0 345.8L852.0 344.3L851.5 342.7L853.8 343.5L853.7 344.6L857.9 344.9L856.1 346.4L855.8 347.2L857.4 348.2L858.0 349.9L857.5 351.6M858.0 349.9L859.1 346.9L861.3 344.3L862.0 342.4L864.8 340.9L865.3 340.1M865.3 340.1L867.5 341.2L867.2 343.8L865.8 346.0L867.8 346.6L868.3 349.4L871.4 350.9M871.4 350.9L869.7 352.3L866.4 353.3L865.5 355.3L867.3 358.2L866.7 360.2L868.3 363.3L868.1 365.8L867.5 368.0M869.7 352.3L870.3 353.6L871.1 356.5L872.8 355.6L875.7 355.4L876.8 356.8L878.2 359.5L878.0 361.5M878.0 361.5L874.2 361.6L873.2 362.7L874.0 365.7M872.9 349.1L874.2 351.6L876.6 352.0L876.2 353.3L877.6 354.8L879.7 358.1L881.3 360.6L881.1 361.3M871.4 350.9L872.9 349.1M878.0 361.5L881.1 361.3M881.1 361.3L881.1 364.6L878.7 365.8L878.8 366.8L876.5 367.7M872.9 349.1L877.9 347.7L879.9 349.7L881.9 350.5M869.7 373.7L871.1 374.8L872.8 374.2M884.4 380.7L885.8 382.4L887.8 382.2L892.0 381.6L892.8 379.5L893.9 377.3L896.8 377.3M933.2 387.8L933.2 397.9M908.3 398.2L908.5 397.3M850.6 307.5L855.4 313.7L862.5 315.3L863.9 317.6L871.1 317.8L877.1 319.3L885.0 317.6L888.0 316.1L892.8 313.4L895.3 312.0L900.2 311.4L898.2 309.4L895.4 306.6M850.6 307.5L857.1 305.1L866.1 304.8L867.8 303.0L872.9 304.3L872.9 305.5L880.4 306.5L882.7 307.4L891.2 306.0L895.4 306.6M895.4 306.6L897.1 307.1L900.6 302.1L901.8 301.2L906.2 300.9L909.9 302.0L912.2 306.3L917.2 308.0L917.6 309.9L923.4 308.9L920.7 314.1L918.1 315.6L917.6 317.1L917.2 318.2M907.4 321.8L909.9 319.2L913.0 318.7L917.2 318.2M911.0 325.2L913.6 324.0" fill="none" stroke="#d9d3e6" stroke-width=".6" stroke-linejoin="round" stroke-linecap="round"/>
</g></svg>

<div class="abs" style="left:970px;top:492px;width:32.3px;height:31.7px;background:#f8f8f8;border-radius:8px"></div>
<svg style="left:979.5px;top:501.6px" width="14" height="14" viewBox="0 0 14 14"><path d="M8.6 2.3 A5 5 0 1 0 12 7.6" fill="none" stroke="#555" stroke-width="1.25" stroke-linecap="round"/><path d="M7.6 0.7 L10.3 2.6 L7.4 4.2 Z" fill="#555"/></svg>

<div class="btn" style="left:425px;top:531px;width:577.3px;height:31.5px"></div>
<div class="t med" style="left:671px;top:542px;font-size:11px;color:#222;letter-spacing:.22px">View Traffic Map</div>

</div></div>
</body>
</html>
